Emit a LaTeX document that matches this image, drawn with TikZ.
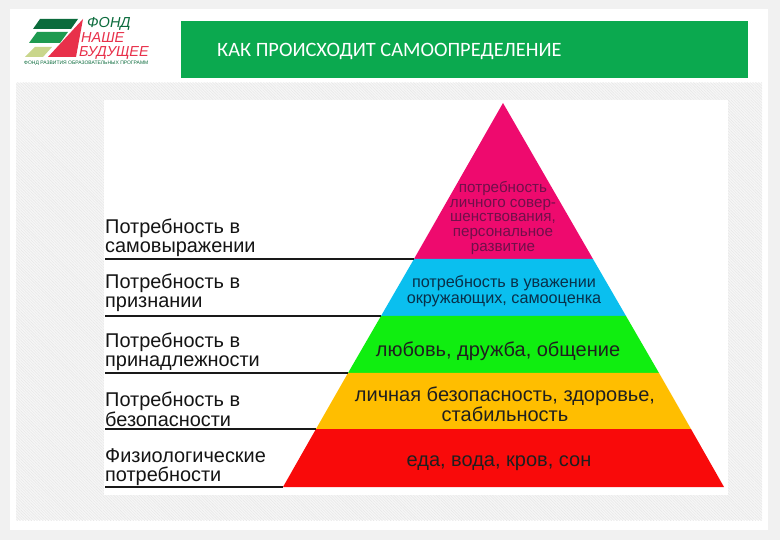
\documentclass[tikz,border=0pt]{standalone}
\usepackage{fontspec}
\setmainfont{Liberation Sans}
\newfontfamily\titlefont{Carlito}
\usetikzlibrary{patterns.meta}
\definecolor{pagebg}{HTML}{F1F1F1}
\definecolor{hatchbg}{HTML}{F7F7F7}
\definecolor{hatchln}{HTML}{E8E8E8}
\definecolor{bar}{HTML}{0BA94F}
\definecolor{lvlpink}{HTML}{EE0A6E}
\definecolor{lvlblue}{HTML}{0ABFEF}
\definecolor{lvlgreen}{HTML}{10EE10}
\definecolor{lvlorange}{HTML}{FFBE00}
\definecolor{lvlred}{HTML}{F90A0A}
\definecolor{logodark}{HTML}{0B6B3C}
\definecolor{logomid}{HTML}{1E9A50}
\definecolor{logolight}{HTML}{C9D68C}
\definecolor{logored}{HTML}{E8304A}
\definecolor{txtpink}{HTML}{70104A}
\definecolor{txtblue}{HTML}{08304A}
\tikzset{
  x=1pt,y=-1pt,
  leftlabel/.style={anchor=west,align=left,inner sep=0pt,font=\fontsize{19.9}{18.6}\selectfont,text=black!92},
  inlabel/.style={align=center,inner sep=0pt,font=\fontsize{20}{16.5}\selectfont,text=black!88},
  rule/.style={draw=black!90,line width=1.6pt},
  logotext/.style={anchor=west,inner sep=0pt,font=\itshape\fontsize{14.5}{15}\selectfont},
}
\begin{document}
\begin{tikzpicture}
\useasboundingbox (0,0) rectangle (780,540);
\fill[pagebg] (0,0) rectangle (780,540);
\fill[white] (10,9) rectangle (768,530);
\fill[hatchbg] (16,83) rectangle (762,520);
\fill[pattern={Lines[angle=-45,distance=2pt,line width=0.6pt]},pattern color=hatchln] (16,83) rectangle (762,520);
\fill[white] (104,100) rectangle (728,495);
% header
\fill[bar] (181,21) rectangle (748,78);
\node[anchor=west,inner sep=0pt,text=white,font=\titlefont\fontsize{20.4}{22}\selectfont] (title) at (217,51) {КАК ПРОИСХОДИТ САМООПРЕДЕЛЕНИЕ};
% logo
\fill[logodark] (40,19) -- (78,19) -- (71,29) -- (33,29) -- cycle;
\fill[logomid] (37,32) -- (68,32) -- (60,43) -- (29,43) -- cycle;
\fill[logolight] (35,47) -- (52,47) -- (43,57) -- (25,57) -- cycle;
\fill[logored] (83,19) -- (76,57) -- (48,57) -- cycle;
\node[logotext,text=logodark] (logoa) at (87,23.5) {ФОНД};
\node[logotext,text=logored] (logob) at (81,38) {НАШЕ};
\node[logotext,text=logored] (logoc) at (79,53) {БУДУЩЕЕ};
\node[anchor=west,inner sep=0pt,text=logodark,font=\fontsize{5}{5}\selectfont] (logod) at (24,63) {ФОНД РАЗВИТИЯ ОБРАЗОВАТЕЛЬНЫХ ПРОГРАММ};
% pyramid
\coordinate (apex) at (503,103);
\coordinate (l1) at (414,259); \coordinate (r1) at (593,259);
\coordinate (l2) at (381,316); \coordinate (r2) at (626,316);
\coordinate (l3) at (348,373); \coordinate (r3) at (659,373);
\coordinate (l4) at (316,429); \coordinate (r4) at (691,429);
\coordinate (l5) at (283,487); \coordinate (r5) at (724,487);
\fill[lvlpink] (apex) -- (r1) -- (l1) -- cycle;
\fill[lvlblue] (l1) -- (r1) -- (r2) -- (l2) -- cycle;
\fill[lvlgreen] (l2) -- (r2) -- (r3) -- (l3) -- cycle;
\fill[lvlorange] (l3) -- (r3) -- (r4) -- (l4) -- cycle;
\fill[lvlred] (l4) -- (r4) -- (r5) -- (l5) -- cycle;
% rules
\coordinate (s1) at (105,259); \coordinate (s2) at (105,316);
\coordinate (s3) at (105,373); \coordinate (s4) at (105,429);
\coordinate (s5) at (105,487);
\draw[rule] (s1) -- (l1);
\draw[rule] (s2) -- (l2);
\draw[rule] (s3) -- (l3);
\draw[rule] (s4) -- (l4);
\draw[rule] (s5) -- (l5);
% left labels
\node[leftlabel] (a1) at (105,238) {Потребность в\\самовыражении};
\node[leftlabel] (a2) at (105,293) {Потребность в\\признании};
\node[leftlabel] (a3) at (105,352) {Потребность в\\принадлежности};
\node[leftlabel] (a4) at (105,409) {Потребность в\\безопасности};
\node[leftlabel] (a5) at (105,467) {Физиологические\\потребности};
% inner labels
\node[inlabel,text=txtpink,font=\fontsize{15.2}{14.8}\selectfont] (b1) at (503,218) {потребность\\личного совер-\\шенствования,\\персональное\\развитие};
\node[inlabel,text=txtblue,font=\fontsize{16.2}{15.5}\selectfont] (b2) at (504,291) {потребность в уважении\\окружающих, самооценка};
\node[inlabel] (b3) at (498,351) {любовь, дружба, общение};
\node[inlabel] (b4) at (505,404.5) {личная безопасность, здоровье,\\стабильность};
\node[inlabel] (b5) at (499,463) {еда, вода, кров, сон};
\end{tikzpicture}
\end{document}
